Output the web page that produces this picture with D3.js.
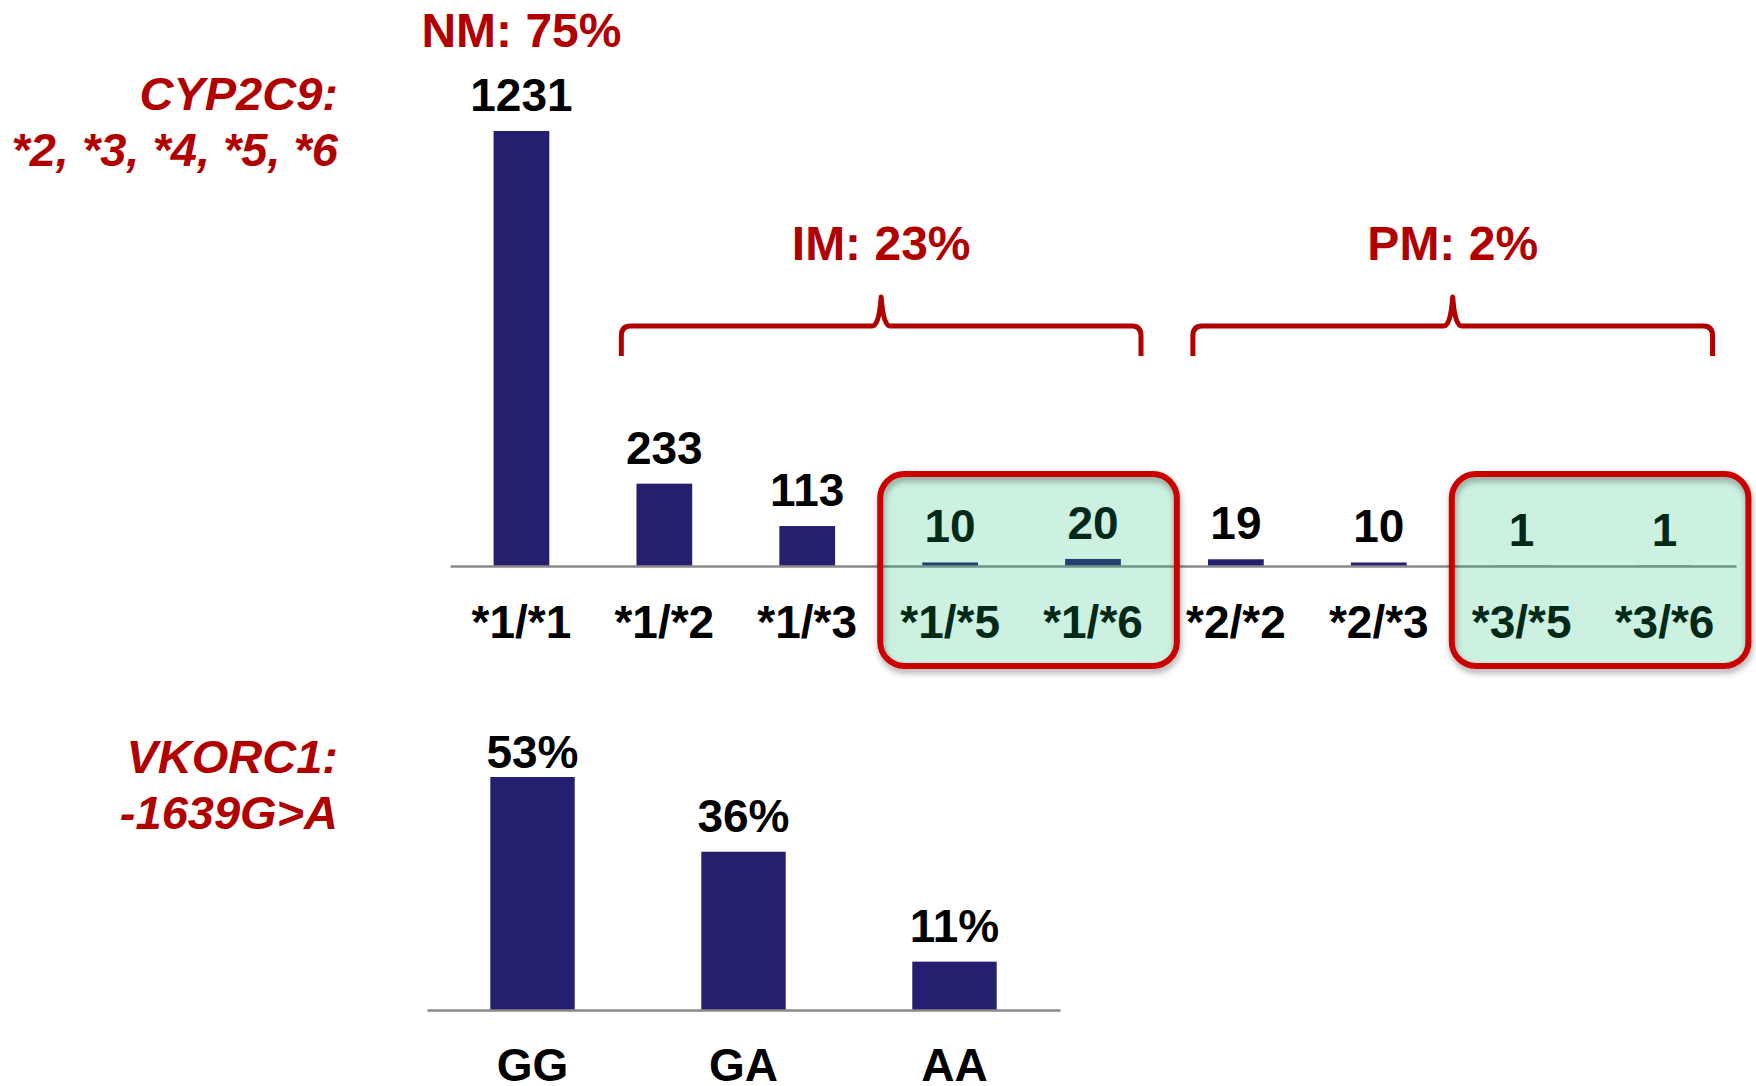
<!DOCTYPE html>
<html>
<head>
<meta charset="utf-8">
<script src="https://cdn.jsdelivr.net/npm/d3@7"></script>
<style>
  html, body { margin: 0; padding: 0; background: #ffffff; }
  svg { display: block; }
  text { font-family: "Liberation Sans", Arial, Helvetica, sans-serif; font-weight: bold; }
</style>
</head>
<body>
<svg id="chart" width="1756" height="1086"></svg>
<script>
// CYP2C9 genotype counts
const cypGenotypes = ["*1/*1", "*1/*2", "*1/*3", "*1/*5", "*1/*6", "*2/*2", "*2/*3", "*3/*5", "*3/*6"];
const cypCounts = [1231, 233, 113, 10, 20, 19, 10, 1, 1];

// Metabolizer groups spanning the genotypes
const phenoNames = ["NM: 75%", "IM: 23%", "PM: 2%"];
const phenoFirst = ["*1/*1", "*1/*2", "*2/*2"];
const phenoLast = ["*1/*1", "*1/*6", "*3/*6"];

// Rare genotypes highlighted with boxes
const highlightFirst = ["*1/*5", "*3/*5"];
const highlightLast = ["*1/*6", "*3/*6"];

// VKORC1 -1639G>A genotype frequencies (%)
const vkGenotypes = ["GG", "GA", "AA"];
const vkPercents = [53, 36, 11];

const NAVY = "#241f6e";
const RED_TEXT = "#b00000";
const BOX_RED = "#cc0000";
const AXIS_GREY = "#8a8a8a";
const FONT_SIZE = 46;

const svg = d3.select("#chart");

const defs = svg.append("defs");
const shadow = defs.append("filter").attr("id", "boxShadow")
  .attr("x", "-10%").attr("y", "-10%").attr("width", "120%").attr("height", "130%");
shadow.append("feDropShadow").attr("dx", 1).attr("dy", 4).attr("stdDeviation", 3)
  .attr("flood-color", "#000").attr("flood-opacity", 0.35);

// ---------- CYP2C9 panel ----------
const xTop = d3.scaleBand().domain(cypGenotypes).range([450, 1736])
  .paddingInner(0.61).paddingOuter(0.305);
const yTop = d3.scaleLinear().domain([0, d3.max(cypCounts)]).range([566, 131]);
const cypData = cypGenotypes.map((g, i) => ({ g, v: cypCounts[i] }));
const cx = g => xTop(g) + xTop.bandwidth() / 2;

const cypPanel = svg.append("g");

cypPanel.selectAll("rect.bar").data(cypData).join("rect")
  .attr("class", "bar")
  .attr("x", d => xTop(d.g))
  .attr("width", xTop.bandwidth())
  .attr("y", d => yTop(d.v))
  .attr("height", d => yTop(0) - yTop(d.v))
  .attr("fill", NAVY);

const axTop = cypPanel.append("g").attr("transform", `translate(0,${yTop(0)})`)
  .call(d3.axisBottom(xTop).tickSize(0).tickSizeOuter(0));
axTop.select(".domain").attr("stroke", AXIS_GREY).attr("stroke-width", 2.5);
axTop.selectAll(".tick text")
  .attr("y", 72).attr("dy", 0)
  .attr("font-size", FONT_SIZE).attr("font-weight", "bold")
  .attr("font-family", "'Liberation Sans', Arial, sans-serif")
  .attr("fill", "#000");

cypPanel.selectAll("text.val").data(cypData).join("text")
  .attr("class", "val")
  .attr("x", d => cx(d.g))
  .attr("y", d => yTop(d.v) - 20)
  .attr("text-anchor", "middle")
  .attr("font-size", FONT_SIZE)
  .attr("fill", "#000")
  .text(d => d.v);

// Highlight boxes: translucent mint wash over bars and labels, red rounded frame
highlightFirst.forEach((g, i) => {
  const x0 = xTop(g) - 42;
  const x1 = xTop(highlightLast[i]) + xTop.bandwidth() + 56;
  const y0 = 474, y1 = 666;
  cypPanel.append("rect")
    .attr("x", x0).attr("y", y0).attr("width", x1 - x0).attr("height", y1 - y0)
    .attr("rx", 24).attr("ry", 24)
    .attr("fill", "rgb(20,188,118)").attr("fill-opacity", 0.215)
    .attr("stroke", "none");
  cypPanel.append("rect")
    .attr("x", x0).attr("y", y0).attr("width", x1 - x0).attr("height", y1 - y0)
    .attr("rx", 24).attr("ry", 24)
    .attr("fill", "none")
    .attr("stroke", BOX_RED).attr("stroke-width", 6)
    .attr("filter", "url(#boxShadow)");
});

// Braces and metabolizer labels
const braceTop = 326, braceEnd = 356, braceTip = 297;
phenoNames.forEach((name, i) => {
  const first = phenoFirst[i], last = phenoLast[i];
  if (first === last) {
    cypPanel.append("text")
      .attr("x", cx(first)).attr("y", 47)
      .attr("text-anchor", "middle")
      .attr("font-size", 48).attr("fill", RED_TEXT)
      .text(name);
    return;
  }
  const x0 = cx(first) - 43;
  const x1 = cx(last) + 48;
  const mid = (x0 + x1) / 2;
  const p = d3.path();
  p.moveTo(x0, braceEnd);
  p.lineTo(x0, braceTop + 10);
  p.quadraticCurveTo(x0, braceTop, x0 + 9, braceTop);
  p.lineTo(mid - 9, braceTop);
  p.quadraticCurveTo(mid - 2, braceTop, mid, braceTip);
  p.quadraticCurveTo(mid + 2, braceTop, mid + 9, braceTop);
  p.lineTo(x1 - 9, braceTop);
  p.quadraticCurveTo(x1, braceTop, x1, braceTop + 10);
  p.lineTo(x1, braceEnd);
  cypPanel.append("path").attr("d", p.toString())
    .attr("fill", "none").attr("stroke", RED_TEXT)
    .attr("stroke-width", 5).attr("stroke-linejoin", "round");
  cypPanel.append("text")
    .attr("x", mid).attr("y", 260)
    .attr("text-anchor", "middle")
    .attr("font-size", 48).attr("fill", RED_TEXT)
    .text(name);
});

// ---------- VKORC1 panel ----------
const xBot = d3.scaleBand().domain(vkGenotypes).range([427, 1060])
  .paddingInner(0.6).paddingOuter(0.3);
const yBot = d3.scaleLinear().domain([0, d3.max(vkPercents)]).range([1010, 777]);
const vkData = vkGenotypes.map((g, i) => ({ g, v: vkPercents[i] }));
const labelCeiling = 768;

const vkPanel = svg.append("g");
vkPanel.selectAll("rect.bar").data(vkData).join("rect")
  .attr("class", "bar")
  .attr("x", d => xBot(d.g))
  .attr("width", xBot.bandwidth())
  .attr("y", d => yBot(d.v))
  .attr("height", d => yBot(0) - yBot(d.v))
  .attr("fill", NAVY);

const axBot = vkPanel.append("g").attr("transform", `translate(0,${yBot(0)})`)
  .call(d3.axisBottom(xBot).tickSize(0).tickSizeOuter(0));
axBot.select(".domain").attr("stroke", AXIS_GREY).attr("stroke-width", 2.5);
axBot.selectAll(".tick text")
  .attr("y", 71).attr("dy", 0)
  .attr("font-size", FONT_SIZE).attr("font-weight", "bold")
  .attr("font-family", "'Liberation Sans', Arial, sans-serif")
  .attr("fill", "#000");

vkPanel.selectAll("text.val").data(vkData).join("text")
  .attr("class", "val")
  .attr("x", d => xBot(d.g) + xBot.bandwidth() / 2)
  .attr("y", d => Math.max(yBot(d.v) - 20, labelCeiling))
  .attr("text-anchor", "middle")
  .attr("font-size", FONT_SIZE)
  .attr("fill", "#000")
  .text(d => d.v + "%");

// ---------- Gene titles ----------
const titles = [
  ["CYP2C9:", 110], ["*2, *3, *4, *5, *6", 166],
  ["VKORC1:", 773], ["-1639G>A", 829]
];
svg.append("g").selectAll("text").data(titles).join("text")
  .attr("x", 338).attr("y", d => d[1])
  .attr("text-anchor", "end")
  .attr("font-size", 47).attr("font-style", "italic")
  .attr("fill", RED_TEXT)
  .text(d => d[0]);
</script>
</body>
</html>
